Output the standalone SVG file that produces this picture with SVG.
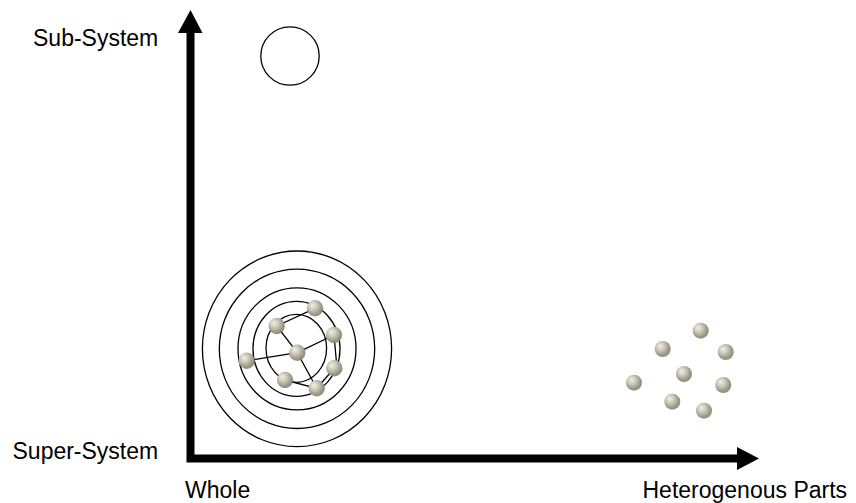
<svg xmlns="http://www.w3.org/2000/svg" width="856" height="503" viewBox="0 0 856 503">
  <style>
    .lbl { font-family: "Liberation Sans", Arial, sans-serif; font-size: 23px; fill: #000; }
    .ring { fill: none; stroke: #000; stroke-width: 1.3; }
    .edge { stroke: #000; stroke-width: 1.3; fill: none; }
    .ball { fill: url(#ballGrad); }
    .axis { fill: none; stroke: #000; stroke-width: 8; stroke-linejoin: miter; }
  </style>
  <defs>
    <radialGradient id="ballGrad" cx="0.42" cy="0.4" r="0.62" fx="0.32" fy="0.3">
      <stop offset="0" stop-color="#f1efe6"/>
      <stop offset="0.4" stop-color="#cfcab9"/>
      <stop offset="0.78" stop-color="#9e9a89"/>
      <stop offset="1" stop-color="#7e7a6b" stop-opacity="0.85"/>
    </radialGradient>
  </defs>
  <rect width="856" height="503" fill="#fff"/>

  <g id="axes">
    <path class="axis" d="M190.5,32 V458.5 H738"/>
    <polygon points="178,33 202.5,33 190.5,10" fill="#000"/>
    <polygon points="737,447 737,470 759,458.5" fill="#000"/>
  </g>

  <g id="labels">
    <text class="lbl" x="33" y="46">Sub-System</text>
    <text class="lbl" x="12.5" y="459">Super-System</text>
    <text class="lbl" x="185" y="498">Whole</text>
    <text class="lbl" x="642.5" y="498">Heterogenous Parts</text>
  </g>

  <g id="subsystem">
    <circle class="ring" cx="290" cy="56" r="29.2"/>
  </g>

  <g id="rings">
    <ellipse class="ring" cx="297" cy="348.8" rx="94.6" ry="97.8"/>
    <ellipse class="ring" cx="297" cy="348.8" rx="77.7" ry="79.7"/>
    <ellipse class="ring" cx="297" cy="348.8" rx="59" ry="61"/>
    <ellipse class="ring" cx="296.5" cy="348.8" rx="43.5" ry="47.5"/>
    <ellipse class="ring" cx="296.3" cy="348.3" rx="30.3" ry="34"/>
  </g>

  <g id="connectors">
    <line class="edge" x1="315" y1="308.3" x2="276.7" y2="326"/>
    <line class="edge" x1="276.7" y1="326" x2="297.3" y2="352.7"/>
    <line class="edge" x1="246.7" y1="360.7" x2="297.3" y2="352.7"/>
    <line class="edge" x1="297.3" y1="352.7" x2="334" y2="335"/>
    <line class="edge" x1="297.3" y1="352.7" x2="316.7" y2="388.3"/>
    <line class="edge" x1="285" y1="380" x2="316.7" y2="388.3"/>
    <line class="edge" x1="334" y1="335" x2="337" y2="368.3"/>
    <line class="edge" x1="334.3" y1="368.3" x2="316.7" y2="388.3"/>
  </g>

  <g id="whole-cluster">
    <circle class="ball" cx="315" cy="308.3" r="8.2"/>
    <circle class="ball" cx="276.7" cy="326" r="8.2"/>
    <circle class="ball" cx="334" cy="335" r="8.2"/>
    <circle class="ball" cx="297.3" cy="352.7" r="8.2"/>
    <circle class="ball" cx="246.7" cy="360.7" r="8.2"/>
    <circle class="ball" cx="334.3" cy="368.3" r="8.2"/>
    <circle class="ball" cx="285" cy="380" r="8.2"/>
    <circle class="ball" cx="316.7" cy="388.3" r="8.2"/>
  </g>

  <g id="parts-cluster">
    <circle class="ball" cx="700.7" cy="330.7" r="8"/>
    <circle class="ball" cx="662.7" cy="349" r="8"/>
    <circle class="ball" cx="725.7" cy="352" r="8"/>
    <circle class="ball" cx="684" cy="374" r="8"/>
    <circle class="ball" cx="634" cy="382.7" r="8"/>
    <circle class="ball" cx="723.3" cy="385" r="8"/>
    <circle class="ball" cx="672.3" cy="401.7" r="8"/>
    <circle class="ball" cx="704" cy="410.7" r="8"/>
  </g>
</svg>
